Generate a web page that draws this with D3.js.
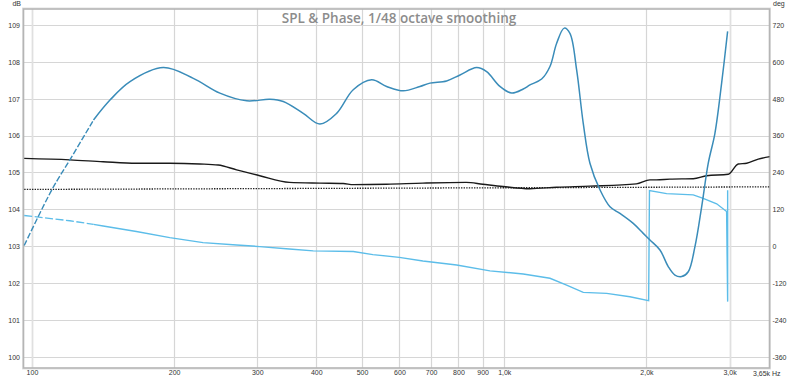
<!DOCTYPE html>
<html>
<head>
<meta charset="utf-8">
<script src="https://cdn.jsdelivr.net/npm/d3@7"></script>
<style>
  html, body { margin: 0; padding: 0; background: #fff; }
  svg { display: block; }
  .tick-label { font-family: "Liberation Sans", Arial, sans-serif; font-size: 7px; fill: #333; }
  .title { font-family: "Open Sans", "Noto Sans", sans-serif; font-size: 13.5px; font-weight: 600; fill: #8c8c8c; }
</style>
</head>
<body>
<svg id="chart" width="800" height="378"></svg>
<script>
// ---------------- data ----------------
const chartTitle = "SPL & Phase, 1/48 octave smoothing";

// frequency axis ticks (Hz) and labels
const xTickValues = [100, 200, 300, 400, 500, 600, 700, 800, 900, 1000, 2000, 3000];
const xTickLabels = ["100", "200", "300", "400", "500", "600", "700", "800", "900", "1,0k", "2,0k", "3,0k"];
const xEndLabel = "3,65k Hz";
const freqMin = 96.2;
const freqMax = 3650;

// left axis (dB) and right axis (deg)
const dbTicks = [100, 101, 102, 103, 104, 105, 106, 107, 108, 109];
const degTicks = [-360, -240, -120, 0, 120, 240, 360, 480, 600, 720];

// SPL curve (blue), dB
const splFreq = [96.3, 110.4, 120.3, 135, 146.3, 161.3, 189.7, 219.6, 250, 284.9, 319.1, 340.5, 375.3, 407.2, 441.7, 478.9, 524, 563.6, 611.3, 663.1, 696.2, 755.1, 805.9, 874.1, 917.7, 979.2, 1036.8, 1097, 1133.5, 1200, 1249.7, 1291.2, 1339.7, 1377.6, 1423.3, 1470, 1518.7, 1594.7, 1674.5, 1757.9, 1875.5, 1969.5, 2035, 2136.6, 2224.5, 2298.5, 2375, 2452.7, 2534, 2618.2, 2703.9, 2793.2, 2886, 2971.6];
const splDb = [103.02, 104.55, 105.34, 106.42, 106.96, 107.46, 107.84, 107.55, 107.15, 106.94, 106.98, 106.92, 106.6, 106.31, 106.6, 107.24, 107.51, 107.33, 107.21, 107.33, 107.42, 107.48, 107.64, 107.84, 107.73, 107.33, 107.15, 107.26, 107.37, 107.53, 107.87, 108.5, 108.91, 108.77, 107.78, 106.33, 105.25, 104.53, 104.07, 103.89, 103.62, 103.35, 103.17, 102.9, 102.45, 102.22, 102.18, 102.31, 102.99, 104.07, 105.25, 106.06, 107.42, 108.82];

// second response (black), dB
const blackFreq = [96.3, 120.3, 141.5, 166.4, 195.8, 226.6, 247.9, 271.2, 303.7, 350.8, 407.2, 456.2, 479.1, 563.6, 672.6, 830.5, 900.8, 993.7, 1133.5, 1291.2, 1518.7, 1904, 2035, 2101, 2243, 2513, 2683, 2981, 3130, 3261, 3450, 3652];
const blackDb = [105.38, 105.34, 105.29, 105.25, 105.25, 105.23, 105.2, 105.07, 104.91, 104.73, 104.71, 104.7, 104.67, 104.68, 104.71, 104.73, 104.68, 104.62, 104.56, 104.6, 104.63, 104.69, 104.8, 104.8, 104.82, 104.83, 104.91, 104.95, 105.23, 105.25, 105.36, 105.43];

// reference level (dotted black), dB
const refFreq = [96.3, 3652];
const refDb = [104.54, 104.61];

// phase (light blue), degrees (wrapped)
const phaseFreq = [96.3, 120.3, 135, 141.5, 166.4, 195.8, 230.3, 271.2, 303.7, 350.8, 394, 479.1, 527, 599.5, 672.6, 793, 932.8, 1097, 1249.7, 1355.5, 1470, 1647.7, 1845.6, 2022, 2030, 2207, 2513, 2638, 2817, 2957, 2972, 2972];
const phaseDeg = [100, 83, 71, 66, 48, 28, 12, 4, -1, -9, -15, -17, -27, -36, -48, -61, -80, -90, -104, -126, -150, -153, -164, -177, 181, 171, 167, 156, 138, 113, -180, 182];

// data below this frequency is drawn dashed
const dashedBelow = 135;

// ---------------- drawing ----------------
const svg = d3.select("#chart");
const frame = { left: 23.5, right: 769.5, top: 9, bottom: 368 };

const x = d3.scaleLog().domain([freqMin, freqMax]).range([24, 769.8]);
const y = d3.scaleLinear().domain([100, 109]).range([357, 24.8]);
const yDeg = d3.scaleLinear().domain([-360, 720]).range([y(100), y(109)]);

svg.append("defs").append("clipPath").attr("id", "plotclip")
  .append("rect")
  .attr("x", frame.left).attr("y", frame.top)
  .attr("width", frame.right - frame.left).attr("height", frame.bottom - frame.top);

// grid
const grid = svg.append("g");
grid.selectAll("line.h").data(dbTicks).join("line")
  .attr("x1", frame.left).attr("x2", frame.right)
  .attr("y1", d => Math.round(y(d)) + 0.5).attr("y2", d => Math.round(y(d)) + 0.5)
  .attr("stroke", "#d6d6d6").attr("stroke-width", 1.2);
grid.selectAll("line.v").data(xTickValues).join("line")
  .attr("x1", d => Math.round(x(d)) + 0.5).attr("x2", d => Math.round(x(d)) + 0.5)
  .attr("y1", frame.top).attr("y2", frame.bottom)
  .attr("stroke", d => (d === 100 || d === 3000) ? "#e0e0e0" : "#d6d6d6")
  .attr("stroke-width", d => (d === 100 || d === 3000) ? 1.8 : 1.2);

// title
svg.append("text").attr("class", "title")
  .attr("x", 399).attr("y", 23)
  .attr("text-anchor", "middle")
  .text(chartTitle);

// frame
svg.append("rect")
  .attr("x", frame.left - 1).attr("y", frame.top - 1)
  .attr("width", frame.right - frame.left + 2).attr("height", frame.bottom - frame.top + 2)
  .attr("fill", "none").attr("stroke", "#e2e2e2").attr("stroke-width", 1);
svg.append("rect")
  .attr("x", frame.left).attr("y", frame.top)
  .attr("width", frame.right - frame.left).attr("height", frame.bottom - frame.top)
  .attr("fill", "none").attr("stroke", "#b5b5b5").attr("stroke-width", 1.6);

// axes labels
const leftAxis = d3.axisLeft(y).tickValues(dbTicks).tickSize(0).tickPadding(0).tickFormat(d3.format("d"));
const gl = svg.append("g").attr("transform", "translate(20,0)").call(leftAxis);
gl.select(".domain").remove();
gl.selectAll("text").attr("class", "tick-label").attr("font-size", null).attr("font-family", null).attr("fill", null).attr("dy", "0.34em");

const rightAxis = d3.axisRight(yDeg).tickValues(degTicks).tickSize(0).tickPadding(0).tickFormat(d => d < 0 ? "-" + Math.abs(d) : String(d));
const gr = svg.append("g").attr("transform", "translate(772.5,0)").call(rightAxis);
gr.select(".domain").remove();
gr.selectAll("text").attr("class", "tick-label").attr("font-size", null).attr("font-family", null).attr("fill", null).attr("dy", "0.34em");

const bottomAxis = d3.axisBottom(x).tickValues(xTickValues).tickSize(0).tickPadding(0)
  .tickFormat((d, i) => xTickLabels[i]);
const gb = svg.append("g").attr("transform", "translate(0,370)").call(bottomAxis);
gb.select(".domain").remove();
gb.selectAll("text").attr("class", "tick-label").attr("font-size", null).attr("font-family", null).attr("fill", null);

svg.append("text").attr("class", "tick-label")
  .attr("x", 753).attr("y", 375.5).text(xEndLabel);
svg.append("text").attr("class", "tick-label")
  .attr("x", 21).attr("y", 6).attr("text-anchor", "end").text("dB");
svg.append("text").attr("class", "tick-label")
  .attr("x", 773).attr("y", 6).text("deg");

// series
const plot = svg.append("g").attr("clip-path", "url(#plotclip)");

function pts(fs, vs) { return fs.map((f, i) => [f, vs[i]]); }

const lineDb = (curve) => d3.line().x(d => x(d[0])).y(d => y(d[1])).curve(curve);
const lineDeg = (curve) => d3.line().x(d => x(d[0])).y(d => yDeg(d[1])).curve(curve);

// dotted reference
plot.append("path").datum(pts(refFreq, refDb))
  .attr("d", lineDb(d3.curveLinear))
  .attr("fill", "none").attr("stroke", "#222").attr("stroke-width", 1.3)
  .attr("stroke-dasharray", "1.4,1.2");

// black response
plot.append("path").datum(pts(blackFreq, blackDb))
  .attr("d", lineDb(d3.curveMonotoneX))
  .attr("fill", "none").attr("stroke", "#1a1a1a").attr("stroke-width", 1.4);

// phase
const phase = pts(phaseFreq, phaseDeg);
plot.append("path").datum(phase.filter(d => d[0] <= dashedBelow))
  .attr("d", lineDeg(d3.curveLinear))
  .attr("fill", "none").attr("stroke", "#5cbde9").attr("stroke-width", 1.3)
  .attr("stroke-dasharray", "8,2.5");
plot.append("path").datum(phase.filter(d => d[0] >= dashedBelow))
  .attr("d", lineDeg(d3.curveLinear))
  .attr("fill", "none").attr("stroke", "#5cbde9").attr("stroke-width", 1.4);

// SPL
const spl = pts(splFreq, splDb);
plot.append("path").datum(spl.filter(d => d[0] <= dashedBelow))
  .attr("d", lineDb(d3.curveCatmullRom.alpha(0.5)))
  .attr("fill", "none").attr("stroke", "#3a8cb9").attr("stroke-width", 1.4)
  .attr("stroke-dasharray", "6,2");
plot.append("path").datum(spl.filter(d => d[0] >= dashedBelow))
  .attr("d", lineDb(d3.curveCatmullRom.alpha(0.5)))
  .attr("fill", "none").attr("stroke", "#3a8cb9").attr("stroke-width", 1.5);
</script>
</body>
</html>
